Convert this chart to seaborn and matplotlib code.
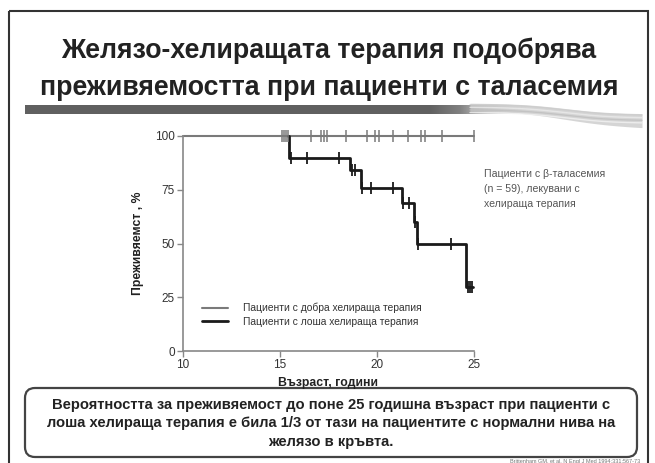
import numpy as np
import pandas as pd
import matplotlib
matplotlib.use("Agg")
import matplotlib.pyplot as plt
import seaborn as sns
from matplotlib.patches import FancyBboxPatch, Rectangle
from matplotlib.lines import Line2D

sns.set_theme(style="white")
plt.rcParams["font.family"] = ["Liberation Sans", "DejaVu Sans"]

# ---- data -------------------------------------------------------------
good_label = "Пациенти с добра хелираща терапия"
poor_label = "Пациенти с лоша хелираща терапия"

good_time = [10, 25]
good_surv = [100, 100]
good_cens_time = [15.1, 15.2, 15.3, 15.4, 16.6, 17.1, 17.25, 17.4, 18.4,
                  19.5, 19.9, 20.1, 20.8, 21.6, 22.25, 22.45, 23.35, 25.0]

poor_time = [15.4, 15.45, 18.6, 19.2, 21.3, 21.9, 22.05, 24.6, 24.95]
poor_surv = [100, 90, 84, 76, 69, 60, 50, 30, 30]
poor_cens_time = [15.55, 16.4, 18.05, 18.7, 18.85, 19.25, 19.7, 20.8,
                  21.35, 21.65, 21.97, 22.1, 23.8, 24.7, 24.8, 24.9]
poor_cens_surv = [90, 90, 90, 84, 84, 76, 76, 76,
                  69, 69, 60, 50, 50, 30, 30, 30]

x_ticks = [10, 15, 20, 25]
y_ticks = [0, 25, 50, 75, 100]

title_lines = ["Желязо-хелиращата терапия подобрява",
               "преживяемостта при пациенти с таласемия"]
note_text = "Пациенти с β-таласемия\n(n = 59), лекувани с\nхелираща терапия"
box_lines = ["Вероятността за преживяемост до поне 25 годишна възраст при пациенти с",
             "лоша хелираща терапия е била 1/3 от тази на пациентите с нормални нива на",
             "желязо в кръвта."]
x_label = "Възраст, години"
y_label = "Преживяемст , %"
source = "Brittenham GM, et al. N Engl J Med 1994;331:567-73"

good_df = pd.DataFrame({"t": good_time, "s": good_surv})
poor_df = pd.DataFrame({"t": poor_time, "s": poor_surv})
good_cens = pd.DataFrame({"t": good_cens_time, "s": [100] * len(good_cens_time)})
poor_cens = pd.DataFrame({"t": poor_cens_time, "s": poor_cens_surv})

GOOD_C = "#7a7a7a"
POOR_C = "#1a1a1a"
W, H = 655, 463

fig = plt.figure(figsize=(W / 100, H / 100), dpi=100)
fig.patch.set_facecolor("white")

# ---- slide decorations (pixel coordinates) -----------------------------
deco = fig.add_axes([0, 0, 1, 1], zorder=0)
deco.set_xlim(0, W)
deco.set_ylim(H, 0)
deco.axis("off")

deco.add_patch(Rectangle((9, 11), 639, 480, fill=False, ec="#333333", lw=1.5))

for i, line in enumerate(title_lines):
    deco.text(329, 51 + i * 37, line, ha="center", va="center",
              fontsize=19.3, fontweight="bold", color="#222222")

# gradient bar under the title
n = 400
xs = np.linspace(25, 530, n)
alpha = np.clip((530 - xs) / 70.0, 0, 1)
shade = np.where(xs < 430, 0.38, 0.38 + (xs - 430) / 100 * 0.40)
rgba = np.zeros((1, n, 4))
rgba[0, :, 0] = shade
rgba[0, :, 1] = shade
rgba[0, :, 2] = shade
rgba[0, :, 3] = alpha
deco.imshow(rgba, extent=[25, 530, 114, 105], aspect="auto",
            interpolation="bilinear", zorder=1)

# soft swoosh at the right end of the bar
sx = np.linspace(470, 642, 200)
upper = 103 + 11 / (1 + np.exp(-(sx - 565) / 24))
lower = upper + 8 + 6 * np.clip((sx - 500) / 140, 0, 1)
deco.fill_between(sx, upper, lower, color="#c8c8c8", alpha=0.75, lw=0, zorder=1)
for k, g in enumerate([0.80, 0.92, 0.75, 0.95]):
    deco.plot(sx, upper + 1.5 + k * 2.6, color=(g, g, g), lw=1.0, alpha=0.8, zorder=1)

deco.text(484, 169, note_text, ha="left", va="top", fontsize=7.6,
          color="#555555", linespacing=1.6)

deco.add_patch(FancyBboxPatch((25, 388), 612, 69,
                              boxstyle="round,pad=0,rounding_size=10",
                              fc="white", ec="#444444", lw=1.6))
for i, line in enumerate(box_lines):
    deco.text(331, 405 + i * 18.5, line, ha="center", va="center",
              fontsize=10.6, fontweight="bold", color="#222222")

deco.text(640, 462, source, ha="right", va="center", fontsize=4, color="#777777")

# ---- survival chart ----------------------------------------------------
ax = fig.add_axes([183 / W, 1 - 351 / H, (474 - 183) / W, (351 - 136) / H], zorder=2)
ax.patch.set_alpha(0)

sns.lineplot(data=good_df, x="t", y="s", ax=ax, color=GOOD_C, lw=1.5,
             drawstyle="steps-post", estimator=None, sort=False, clip_on=False)
sns.lineplot(data=poor_df, x="t", y="s", ax=ax, color=POOR_C, lw=2.0,
             drawstyle="steps-post", estimator=None, sort=False, clip_on=False)
sns.scatterplot(data=good_cens, x="t", y="s", ax=ax, marker="|", s=85,
                color=GOOD_C, linewidth=1.1, clip_on=False, zorder=3)
sns.scatterplot(data=poor_cens, x="t", y="s", ax=ax, marker="|", s=85,
                color=POOR_C, linewidth=1.3, clip_on=False, zorder=4)

ax.set_xlim(10, 25)
ax.set_ylim(0, 100)
ax.set_xticks(x_ticks)
ax.set_yticks(y_ticks)
ax.tick_params(axis="both", direction="out", length=4, width=1, color="#888888",
               labelsize=8.5, labelcolor="#333333", pad=2,
               bottom=True, left=True)
for side in ["top", "right"]:
    ax.spines[side].set_visible(False)
for side in ["left", "bottom"]:
    ax.spines[side].set_color("#888888")
    ax.spines[side].set_linewidth(1.2)

ax.set_xlabel(x_label, fontsize=8.8, fontweight="bold", color="#222222")
ax.set_ylabel(y_label, fontsize=8.8, fontweight="bold", color="#222222")
ax.xaxis.set_label_coords(0.5, -0.12)
ax.yaxis.set_label_coords(-0.135, 0.5)

handles = [Line2D([], [], color=GOOD_C, lw=1.5),
           Line2D([], [], color=POOR_C, lw=2.0)]
ax.legend(handles, [good_label, poor_label], loc="upper left",
          bbox_to_anchor=((202 - 183) / 291, (351 - 303) / 215),
          frameon=False, fontsize=7.4, handlelength=2.5, handletextpad=1.5,
          labelspacing=0.3, borderpad=0, borderaxespad=0, labelcolor="#333333")

fig.savefig("out.png", dpi=100, facecolor="white")
